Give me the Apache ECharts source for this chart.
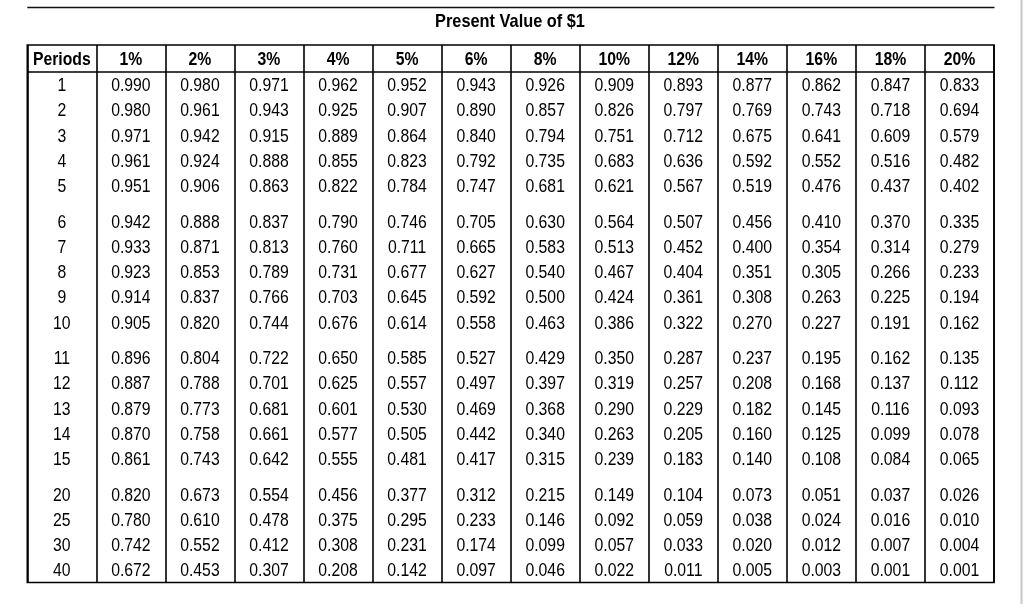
<!DOCTYPE html>
<html>
<head>
<meta charset="utf-8">
<script src="https://cdn.jsdelivr.net/npm/echarts@6/dist/echarts.min.js"></script>
<style>
  html, body { margin: 0; padding: 0; background: #fff; }
  #chart { width: 1024px; height: 608px; }
</style>
</head>
<body>
<div id="chart"></div>
<script>
// ---- data ----
var title = 'Present Value of $1';
var firstHeader = 'Periods';
var rates = ['1%', '2%', '3%', '4%', '5%', '6%', '8%', '10%', '12%', '14%', '16%', '18%', '20%'];
var periods = [1, 2, 3, 4, 5, 6, 7, 8, 9, 10, 11, 12, 13, 14, 15, 20, 25, 30, 40];
var periodGroups = [[1, 2, 3, 4, 5], [6, 7, 8, 9, 10], [11, 12, 13, 14, 15], [20, 25, 30, 40]];

var pv1  = [0.990, 0.980, 0.971, 0.961, 0.951, 0.942, 0.933, 0.923, 0.914, 0.905, 0.896, 0.887, 0.879, 0.870, 0.861, 0.820, 0.780, 0.742, 0.672];
var pv2  = [0.980, 0.961, 0.942, 0.924, 0.906, 0.888, 0.871, 0.853, 0.837, 0.820, 0.804, 0.788, 0.773, 0.758, 0.743, 0.673, 0.610, 0.552, 0.453];
var pv3  = [0.971, 0.943, 0.915, 0.888, 0.863, 0.837, 0.813, 0.789, 0.766, 0.744, 0.722, 0.701, 0.681, 0.661, 0.642, 0.554, 0.478, 0.412, 0.307];
var pv4  = [0.962, 0.925, 0.889, 0.855, 0.822, 0.790, 0.760, 0.731, 0.703, 0.676, 0.650, 0.625, 0.601, 0.577, 0.555, 0.456, 0.375, 0.308, 0.208];
var pv5  = [0.952, 0.907, 0.864, 0.823, 0.784, 0.746, 0.711, 0.677, 0.645, 0.614, 0.585, 0.557, 0.530, 0.505, 0.481, 0.377, 0.295, 0.231, 0.142];
var pv6  = [0.943, 0.890, 0.840, 0.792, 0.747, 0.705, 0.665, 0.627, 0.592, 0.558, 0.527, 0.497, 0.469, 0.442, 0.417, 0.312, 0.233, 0.174, 0.097];
var pv8  = [0.926, 0.857, 0.794, 0.735, 0.681, 0.630, 0.583, 0.540, 0.500, 0.463, 0.429, 0.397, 0.368, 0.340, 0.315, 0.215, 0.146, 0.099, 0.046];
var pv10 = [0.909, 0.826, 0.751, 0.683, 0.621, 0.564, 0.513, 0.467, 0.424, 0.386, 0.350, 0.319, 0.290, 0.263, 0.239, 0.149, 0.092, 0.057, 0.022];
var pv12 = [0.893, 0.797, 0.712, 0.636, 0.567, 0.507, 0.452, 0.404, 0.361, 0.322, 0.287, 0.257, 0.229, 0.205, 0.183, 0.104, 0.059, 0.033, 0.011];
var pv14 = [0.877, 0.769, 0.675, 0.592, 0.519, 0.456, 0.400, 0.351, 0.308, 0.270, 0.237, 0.208, 0.182, 0.160, 0.140, 0.073, 0.038, 0.020, 0.005];
var pv16 = [0.862, 0.743, 0.641, 0.552, 0.476, 0.410, 0.354, 0.305, 0.263, 0.227, 0.195, 0.168, 0.145, 0.125, 0.108, 0.051, 0.024, 0.012, 0.003];
var pv18 = [0.847, 0.718, 0.609, 0.516, 0.437, 0.370, 0.314, 0.266, 0.225, 0.191, 0.162, 0.137, 0.116, 0.099, 0.084, 0.037, 0.016, 0.007, 0.001];
var pv20 = [0.833, 0.694, 0.579, 0.482, 0.402, 0.335, 0.279, 0.233, 0.194, 0.162, 0.135, 0.112, 0.093, 0.078, 0.065, 0.026, 0.010, 0.004, 0.001];
var pvColumns = [pv1, pv2, pv3, pv4, pv5, pv6, pv8, pv10, pv12, pv14, pv16, pv18, pv20];

// ---- layout (row units on the y axis) ----
var HEADER_Y = 0.58;
var HEADER_LINE_Y = 1.06;
var FIRST_ROW_Y = 1.62;
var GROUP_GAP = 0.4;
var Y_MAX = 21.27;
var FONT = '"Liberation Sans", Arial, sans-serif';
var NARROW = 0.83; // condensed look of the original typeface

var columns = [firstHeader].concat(rates);

// build cells
var cells = [];
columns.forEach(function (h, c) {
  cells.push({ value: [c, HEADER_Y], text: h, bold: true });
});
var rowIdx = 0;
periodGroups.forEach(function (grp, g) {
  grp.forEach(function (p) {
    var pi = periods.indexOf(p);
    var y = FIRST_ROW_Y + rowIdx + g * GROUP_GAP;
    cells.push({ value: [0, y], text: String(p), bold: false });
    pvColumns.forEach(function (col, c) {
      cells.push({ value: [c + 1, y], text: col[pi].toFixed(3), bold: false });
    });
    rowIdx++;
  });
});

var chart = echarts.init(document.getElementById('chart'), null, { renderer: 'canvas' });
chart.setOption({
  animation: false,
  backgroundColor: '#ffffff',
  graphic: [
    { type: 'line', shape: { x1: 27.3, y1: 7.5, x2: 994.5, y2: 7.5 }, style: { stroke: '#111', lineWidth: 1.6 }, silent: true },
    { type: 'line', shape: { x1: 1021.5, y1: 0, x2: 1021.5, y2: 604 }, style: { stroke: '#c8c8c8', lineWidth: 2 }, silent: true },
    {
      type: 'text', x: 510, y: 22, scaleX: 0.86, silent: true,
      style: {
        text: title, fill: '#000', font: 'bold 19px ' + FONT,
        align: 'center', verticalAlign: 'middle', textAlign: 'center', textVerticalAlign: 'middle'
      }
    }
  ],
  grid: {
    left: 27.3, right: 30, top: 45, bottom: 25.5,
    show: true, borderColor: '#000', borderWidth: 1.6, backgroundColor: 'transparent'
  },
  xAxis: {
    type: 'category',
    data: columns,
    boundaryGap: true,
    axisLine: { show: false },
    axisTick: { show: false },
    axisLabel: { show: false },
    splitLine: { show: true, interval: 0, lineStyle: { color: '#000', width: 1.6 } }
  },
  yAxis: {
    type: 'value',
    inverse: true,
    min: 0,
    max: Y_MAX,
    axisLine: { show: false },
    axisTick: { show: false },
    axisLabel: { show: false },
    splitLine: { show: false }
  },
  series: [{
    type: 'custom',
    coordinateSystem: 'cartesian2d',
    data: cells.map(function (d) { return d.value; }),
    renderItem: function (params, api) {
      var pt = api.coord([api.value(0), api.value(1)]);
      var d = cells[params.dataIndex];
      return {
        type: 'text',
        x: pt[0],
        y: pt[1],
        scaleX: NARROW,
        style: {
          text: d.text,
          fill: '#000',
          font: (d.bold ? 'bold ' : '') + '19px ' + FONT,
          align: 'center',
          verticalAlign: 'middle',
          textAlign: 'center',
          textVerticalAlign: 'middle'
        }
      };
    },
    markLine: {
      silent: true,
      symbol: 'none',
      label: { show: false },
      lineStyle: { color: '#000', width: 1.6, type: 'solid' },
      data: [{ yAxis: HEADER_LINE_Y }]
    }
  }]
});
</script>
</body>
</html>
